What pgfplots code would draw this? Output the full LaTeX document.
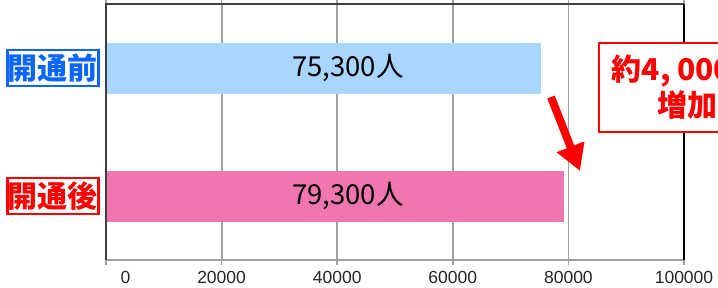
\documentclass[border=0pt]{standalone}
\usepackage{fontspec}
\setmainfont{Liberation Sans}
\newfontfamily\jp{Noto Sans CJK JP}
\usepackage{pgfplots}
\pgfplotsset{compat=1.18}
\usetikzlibrary{arrows.meta}
\definecolor{barblue}{HTML}{A8D6FF}
\definecolor{barpink}{HTML}{F176B0}
\definecolor{lblblue}{HTML}{0A64FF}
\definecolor{gridgray}{HTML}{A0A0A0}
\definecolor{axdark}{HTML}{404040}
\begin{document}
\begin{tikzpicture}
\begin{axis}[
  at={(106pt,27pt)}, anchor=south west,
  scale only axis, width=578pt, height=256pt,
  xmin=0, xmax=100000, ymin=-0.5, ymax=1.5, y dir=reverse,
  xtick={0,20000,40000,60000,80000,100000},
  xticklabels={\hphantom{0000}0,20000,40000,60000,80000,100000},
  ytick=\empty,
  scaled x ticks=false,
  /pgf/number format/assume math mode=true,
  xticklabel style={font=\fontsize{17.5}{20}\selectfont, text=black!85, yshift=-3pt},
  tick align=outside, major tick length=5pt,
  xtick style={draw=gridgray, line width=1.5pt},
  xmajorgrids, grid style={draw=gridgray, line width=1.8pt},
  axis line style={draw=none},
  clip=false,
  xbar, bar width=51pt,
]
\addplot[fill=barblue, draw=none, bar shift=0pt] coordinates {(75300,0)};
\addplot[fill=barpink, draw=none, bar shift=0pt] coordinates {(79300,1)};
\draw[gridgray, line width=2pt] (rel axis cs:0,0) -- (rel axis cs:1,0);
\draw[axdark, line width=2pt] (rel axis cs:0,0) -- (rel axis cs:0,1) -- (rel axis cs:1,1);
\draw[black, line width=1.5pt] (rel axis cs:1,1) -- (rel axis cs:1,0);
\node[font=\jp\fontsize{27.5}{30}\selectfont, text=black] at (axis cs:41870,0) {75,300人};
\node[font=\jp\fontsize{27.5}{30}\selectfont, text=black] at (axis cs:41870,1) {79,300人};
\node[font=\jp\bfseries\fontsize{30}{32}\selectfont, text=lblblue, draw=lblblue, line width=2.5pt, fill=white, inner xsep=0.5pt, inner ysep=3.5pt] at (axis cs:-9170,0) {開通前};
\node[font=\jp\bfseries\fontsize{30}{32}\selectfont, text=red, draw=red, line width=2.5pt, fill=white, inner xsep=0.5pt, inner ysep=3.5pt] at (axis cs:-9170,1) {開通後};
\end{axis}
\draw[red, line width=8pt, -{Triangle[length=26pt,width=28pt]}] (551pt,190pt) -- (580pt,116pt);
\node[draw=red, line width=2pt, fill=white, minimum width=176pt, minimum height=89pt, align=center, text=red, font=\jp\bfseries\fontsize{30}{36}\selectfont] at (687pt,199.5pt) {約4, 000人\\増加};
\pgfresetboundingbox
\path[use as bounding box] (0,0) rectangle (718pt,287pt);
\end{tikzpicture}
\end{document}
